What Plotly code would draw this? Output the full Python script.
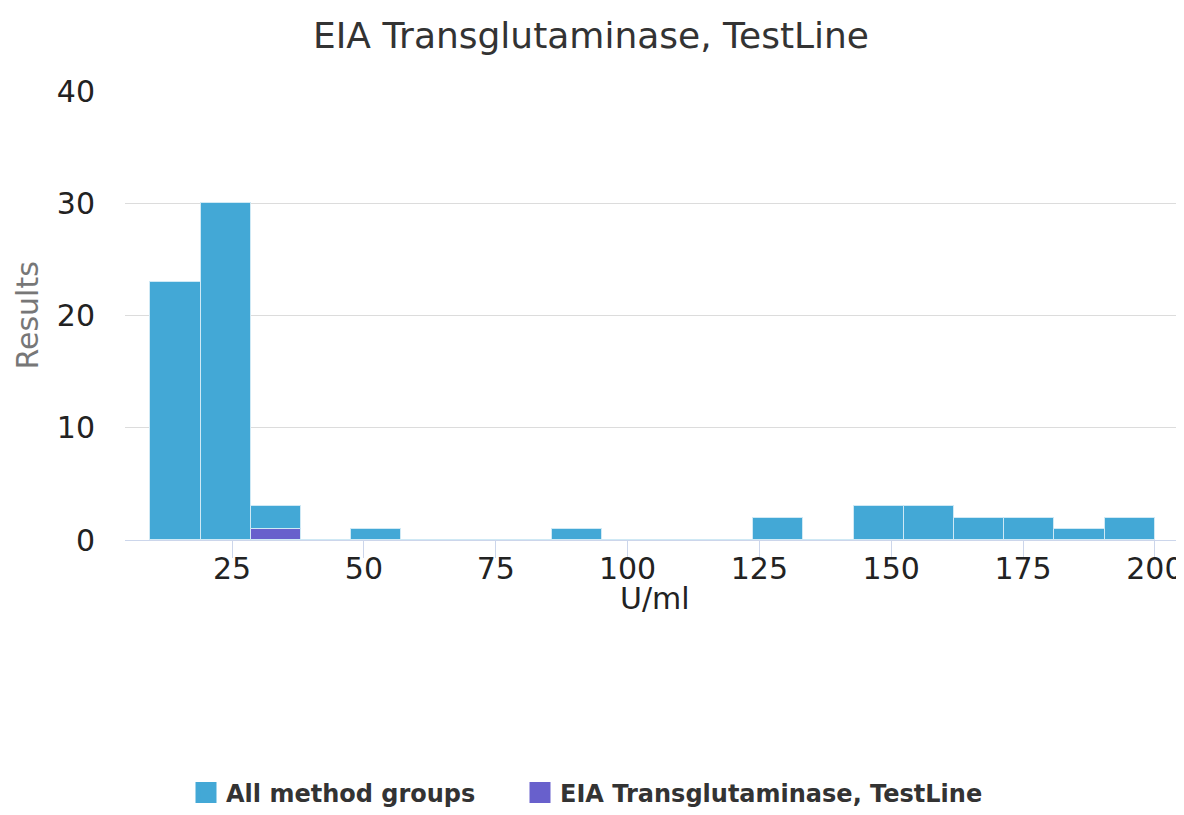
import numpy as np
import plotly.graph_objects as go

# ---- data ----
bin_start = 9.5
bin_width = 9.525
all_counts = [23, 30, 3, 0, 1, 0, 0, 0, 1, 0, 0, 0, 2, 0, 3, 3, 2, 2, 1, 2]
testline_counts = [0, 0, 1, 0, 0, 0, 0, 0, 0, 0, 0, 0, 0, 0, 0, 0, 0, 0, 0, 0]
x_ticks = [25, 50, 75, 100, 125, 150, 175, 200]
y_ticks = [0, 10, 20, 30, 40]
series_names = ["All method groups", "EIA Transglutaminase, TestLine"]
title_text = "EIA Transglutaminase, TestLine"

BLUE = "#43a8d6"
PURPLE = "#6860cc"

centers = bin_start + bin_width * (np.arange(len(all_counts)) + 0.5)

fig = go.Figure()
fig.add_trace(go.Bar(x=centers, y=all_counts, width=bin_width,
                     marker=dict(color=BLUE, line=dict(color="#cfe9f5", width=1)),
                     showlegend=False, name=series_names[0]))
fig.add_trace(go.Bar(x=centers, y=testline_counts, width=bin_width,
                     marker=dict(color=PURPLE, line=dict(color="#cfe9f5", width=1)),
                     showlegend=False, name=series_names[1]))
# legend entries (one legend per entry so each can be placed like the reference)
for nm, col, lg in zip(series_names, [BLUE, PURPLE], ["legend", "legend2"]):
    fig.add_trace(go.Scatter(x=[None], y=[None], mode="markers", name=nm, legend=lg,
                             marker=dict(symbol="square", size=16, color=col, line=dict(color=col, width=5))))

FONT = "DejaVu Sans"
OFF = 8                      # page body margin
W, H = 1184 - 2 * OFF, 815 - 2 * OFF
PL, PR, PT, PB = 125, 1176, 91, 540   # plot area in page pixels
pw, ph = PR - PL, PB - PT
leg_font = dict(family=FONT, size=24, color="#333333", weight="bold")
leg_y = 1 - (793 - OFF) / H
fig.update_layout(
    width=W, height=H,
    margin=dict(l=PL - OFF, r=W + OFF - PR, t=PT - OFF, b=H + OFF - PB, autoexpand=False),
    paper_bgcolor="white", plot_bgcolor="white",
    barmode="overlay", bargap=0,
    font=dict(family=FONT, color="#222222"),
    title=dict(text=title_text, x=(591 - OFF) / W, xref="container", xanchor="center",
               y=1 - (35 - OFF) / H, yref="container", yanchor="middle",
               font=dict(family=FONT, size=36, color="#333333")),
    xaxis=dict(range=[4.7, 204.0], tickvals=x_ticks, ticks="outside", ticklen=17, tickcolor="#ccd6eb",
               tickwidth=1, showline=True, linecolor="#ccd6eb", linewidth=1, showgrid=False, zeroline=False,
               ticklabeloverflow="allow", ticklabelstandoff=-15, automargin=False,
               tickfont=dict(size=30, color="#222222")),
    yaxis=dict(range=[0, 40], tickvals=y_ticks, showgrid=True, gridcolor="#dcdcdc", zeroline=False,
               showline=False, ticks="", ticklabelstandoff=29, automargin=False,
               tickfont=dict(size=30, color="#222222")),
    legend=dict(orientation="h", xref="container", yref="container", x=(186 - OFF) / W, xanchor="left",
                y=leg_y, yanchor="middle", font=leg_font, itemsizing="trace"),
    legend2=dict(orientation="h", xref="container", yref="container", x=(520 - OFF) / W, xanchor="left",
                 y=leg_y, yanchor="middle", font=leg_font, itemsizing="trace"),
    showlegend=True,
)
fig.add_annotation(text="Results", textangle=-90, xref="paper", yref="paper", x=(27 - PL) / pw, y=0.5,
                   xanchor="center", yanchor="middle", showarrow=False, font=dict(size=30, color="#777777"))
fig.add_annotation(text="U/ml", xref="paper", yref="paper", x=(655 - PL) / pw, y=(PB - 598) / ph,
                   xanchor="center", yanchor="middle", showarrow=False, font=dict(size=30, color="#222222"))

fig.write_html("out.html")
